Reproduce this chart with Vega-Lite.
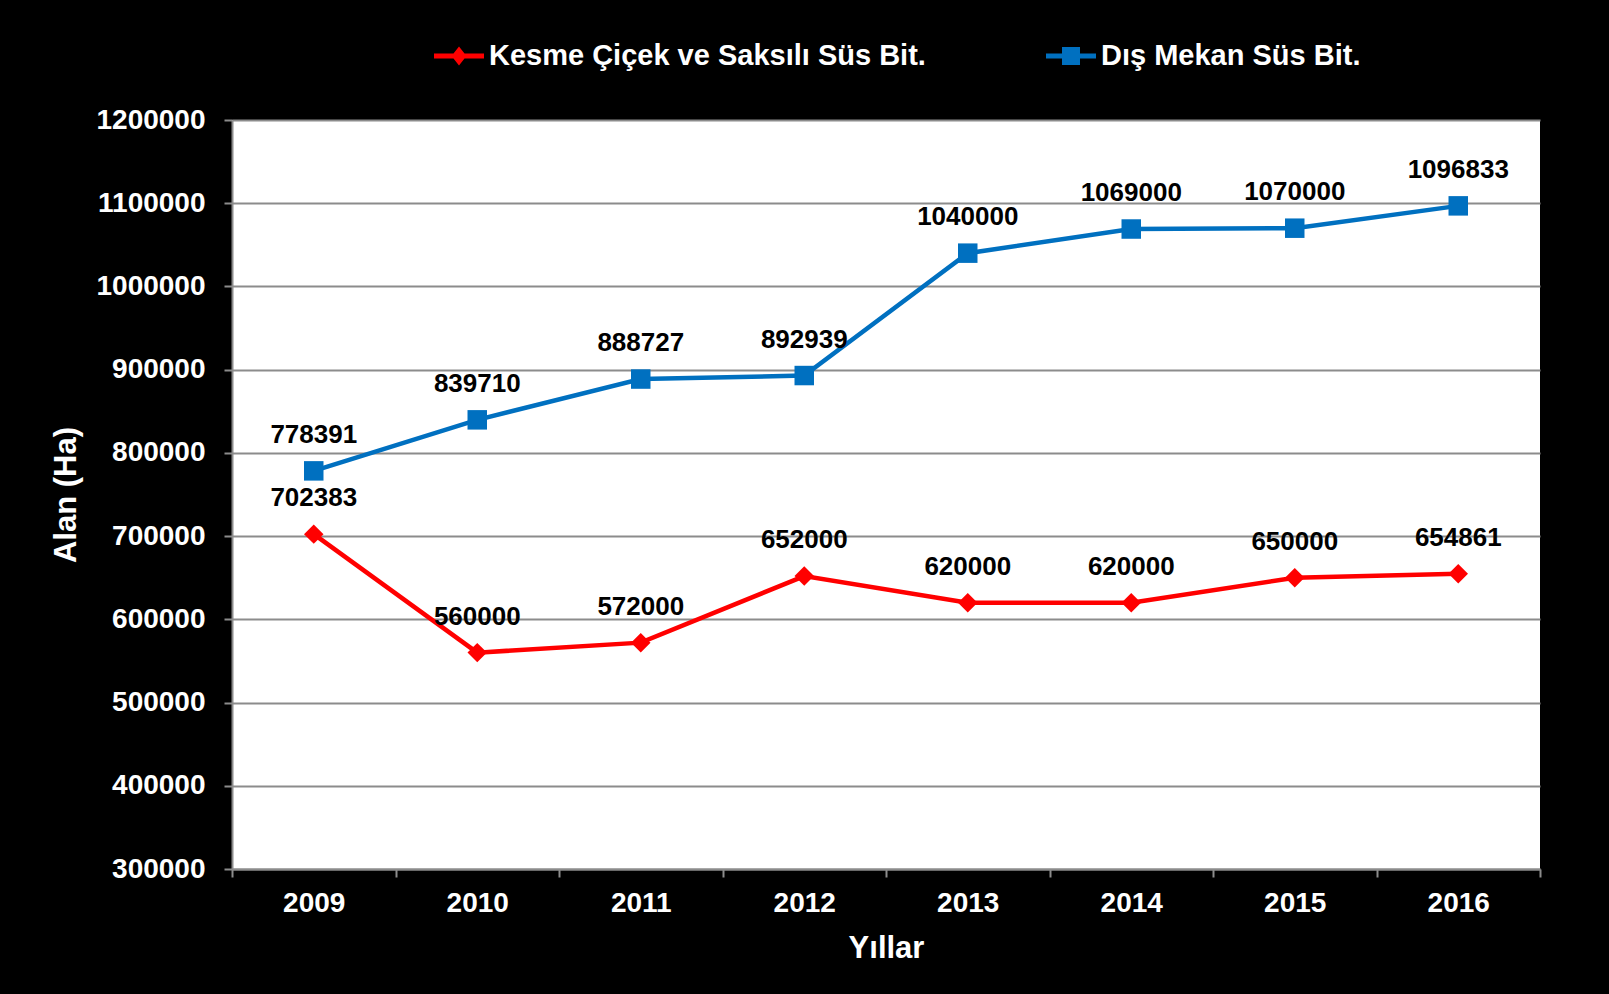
{
  "$schema": "https://vega.github.io/schema/vega-lite/v6.json",
  "autosize": {"type": "none"},
  "width": 1308,
  "height": 749,
  "padding": {"left": 232, "top": 120, "right": 69, "bottom": 125},
  "background": "black",
  "config": {
    "view": {"fill": "white", "stroke": null},
    "font": "Liberation Sans",
    "axis": {
      "labelFont": "Liberation Sans",
      "labelFontWeight": "bold",
      "labelFontSize": 28,
      "labelColor": "white",
      "titleFont": "Liberation Sans",
      "titleFontWeight": "bold",
      "titleFontSize": 31,
      "titleColor": "white",
      "domainColor": "#8c8c8c",
      "domainWidth": 2,
      "tickColor": "#8c8c8c",
      "tickWidth": 2,
      "tickSize": 8
    }
  },
  "data": {
    "values": [
      {"year": "2009", "series": "Kesme Çiçek ve Saksılı Süs Bit.", "value": 702383},
      {"year": "2010", "series": "Kesme Çiçek ve Saksılı Süs Bit.", "value": 560000},
      {"year": "2011", "series": "Kesme Çiçek ve Saksılı Süs Bit.", "value": 572000},
      {"year": "2012", "series": "Kesme Çiçek ve Saksılı Süs Bit.", "value": 652000},
      {"year": "2013", "series": "Kesme Çiçek ve Saksılı Süs Bit.", "value": 620000},
      {"year": "2014", "series": "Kesme Çiçek ve Saksılı Süs Bit.", "value": 620000},
      {"year": "2015", "series": "Kesme Çiçek ve Saksılı Süs Bit.", "value": 650000},
      {"year": "2016", "series": "Kesme Çiçek ve Saksılı Süs Bit.", "value": 654861},
      {"year": "2009", "series": "Dış Mekan Süs Bit.", "value": 778391},
      {"year": "2010", "series": "Dış Mekan Süs Bit.", "value": 839710},
      {"year": "2011", "series": "Dış Mekan Süs Bit.", "value": 888727},
      {"year": "2012", "series": "Dış Mekan Süs Bit.", "value": 892939},
      {"year": "2013", "series": "Dış Mekan Süs Bit.", "value": 1040000},
      {"year": "2014", "series": "Dış Mekan Süs Bit.", "value": 1069000},
      {"year": "2015", "series": "Dış Mekan Süs Bit.", "value": 1070000},
      {"year": "2016", "series": "Dış Mekan Süs Bit.", "value": 1096833}
    ]
  },
  "encoding": {
    "x": {
      "field": "year",
      "type": "ordinal",
      "bandPosition": 0.5,
      "scale": {"type": "band", "paddingInner": 0, "paddingOuter": 0},
      "axis": {"title": "Yıllar", "labelAngle": 0, "tickBand": "extent", "labelPadding": 12, "titlePadding": 16, "grid": false}
    },
    "y": {
      "field": "value",
      "type": "quantitative",
      "scale": {"domain": [300000, 1200000], "nice": false, "zero": false},
      "axis": {
        "title": "Alan (Ha)",
        "values": [300000, 400000, 500000, 600000, 700000, 800000, 900000, 1000000, 1100000, 1200000],
        "format": "d",
        "grid": true,
        "gridColor": "#8c8c8c",
        "gridWidth": 2,
        "labelPadding": 19,
        "titlePadding": 13
      }
    }
  },
  "layer": [
    {
      "mark": {"type": "line", "strokeWidth": 4.5},
      "encoding": {
        "color": {
          "field": "series",
          "type": "nominal",
          "scale": {"domain": ["Kesme Çiçek ve Saksılı Süs Bit.", "Dış Mekan Süs Bit."], "range": ["#FF0000", "#0070C0"]},
          "legend": {
            "title": null,
            "orient": "none",
            "legendX": 202,
            "legendY": -89,
            "direction": "horizontal",
            "padding": 0,
            "labelFont": "Liberation Sans",
            "labelFontWeight": "bold",
            "labelFontSize": 29,
            "labelColor": "white",
            "labelLimit": 0,
            "labelOffset": 5,
            "columnPadding": 120,
            "symbolSize": 2500,
            "symbolStrokeWidth": 0,
            "encode": {
              "symbols": {
                "update": {
                  "shape": {"signal": "datum.value == 'Dış Mekan Süs Bit.' ? 'M-1,-0.1H1V0.1H-1Z M-0.36,-0.36H0.36V0.36H-0.36Z' : 'M-1,-0.1H1V0.1H-1Z M0,-0.38L0.3,0L0,0.38L-0.3,0Z'"},
                  "fill": {"signal": "datum.value == 'Dış Mekan Süs Bit.' ? '#0070C0' : '#FF0000'"},
                  "fillOpacity": {"value": 1},
                  "strokeWidth": {"value": 0}
                }
              }
            }
          }
        }
      }
    },
    {
      "transform": [{"filter": "datum.series == 'Kesme Çiçek ve Saksılı Süs Bit.'"}],
      "mark": {"type": "point", "filled": true, "opacity": 1, "size": 380, "shape": "diamond"},
      "encoding": {
        "color": {"field": "series", "type": "nominal", "legend": null}
      }
    },
    {
      "transform": [{"filter": "datum.series == 'Dış Mekan Süs Bit.'"}],
      "mark": {"type": "point", "filled": true, "opacity": 1, "size": 380, "shape": "square"},
      "encoding": {
        "color": {"field": "series", "type": "nominal", "legend": null}
      }
    },
    {
      "mark": {"type": "text", "font": "Liberation Sans", "fontWeight": "bold", "fontSize": 26, "color": "black", "dy": -36, "baseline": "middle"},
      "encoding": {
        "text": {"field": "value", "type": "quantitative", "format": "d"}
      }
    }
  ]
}
